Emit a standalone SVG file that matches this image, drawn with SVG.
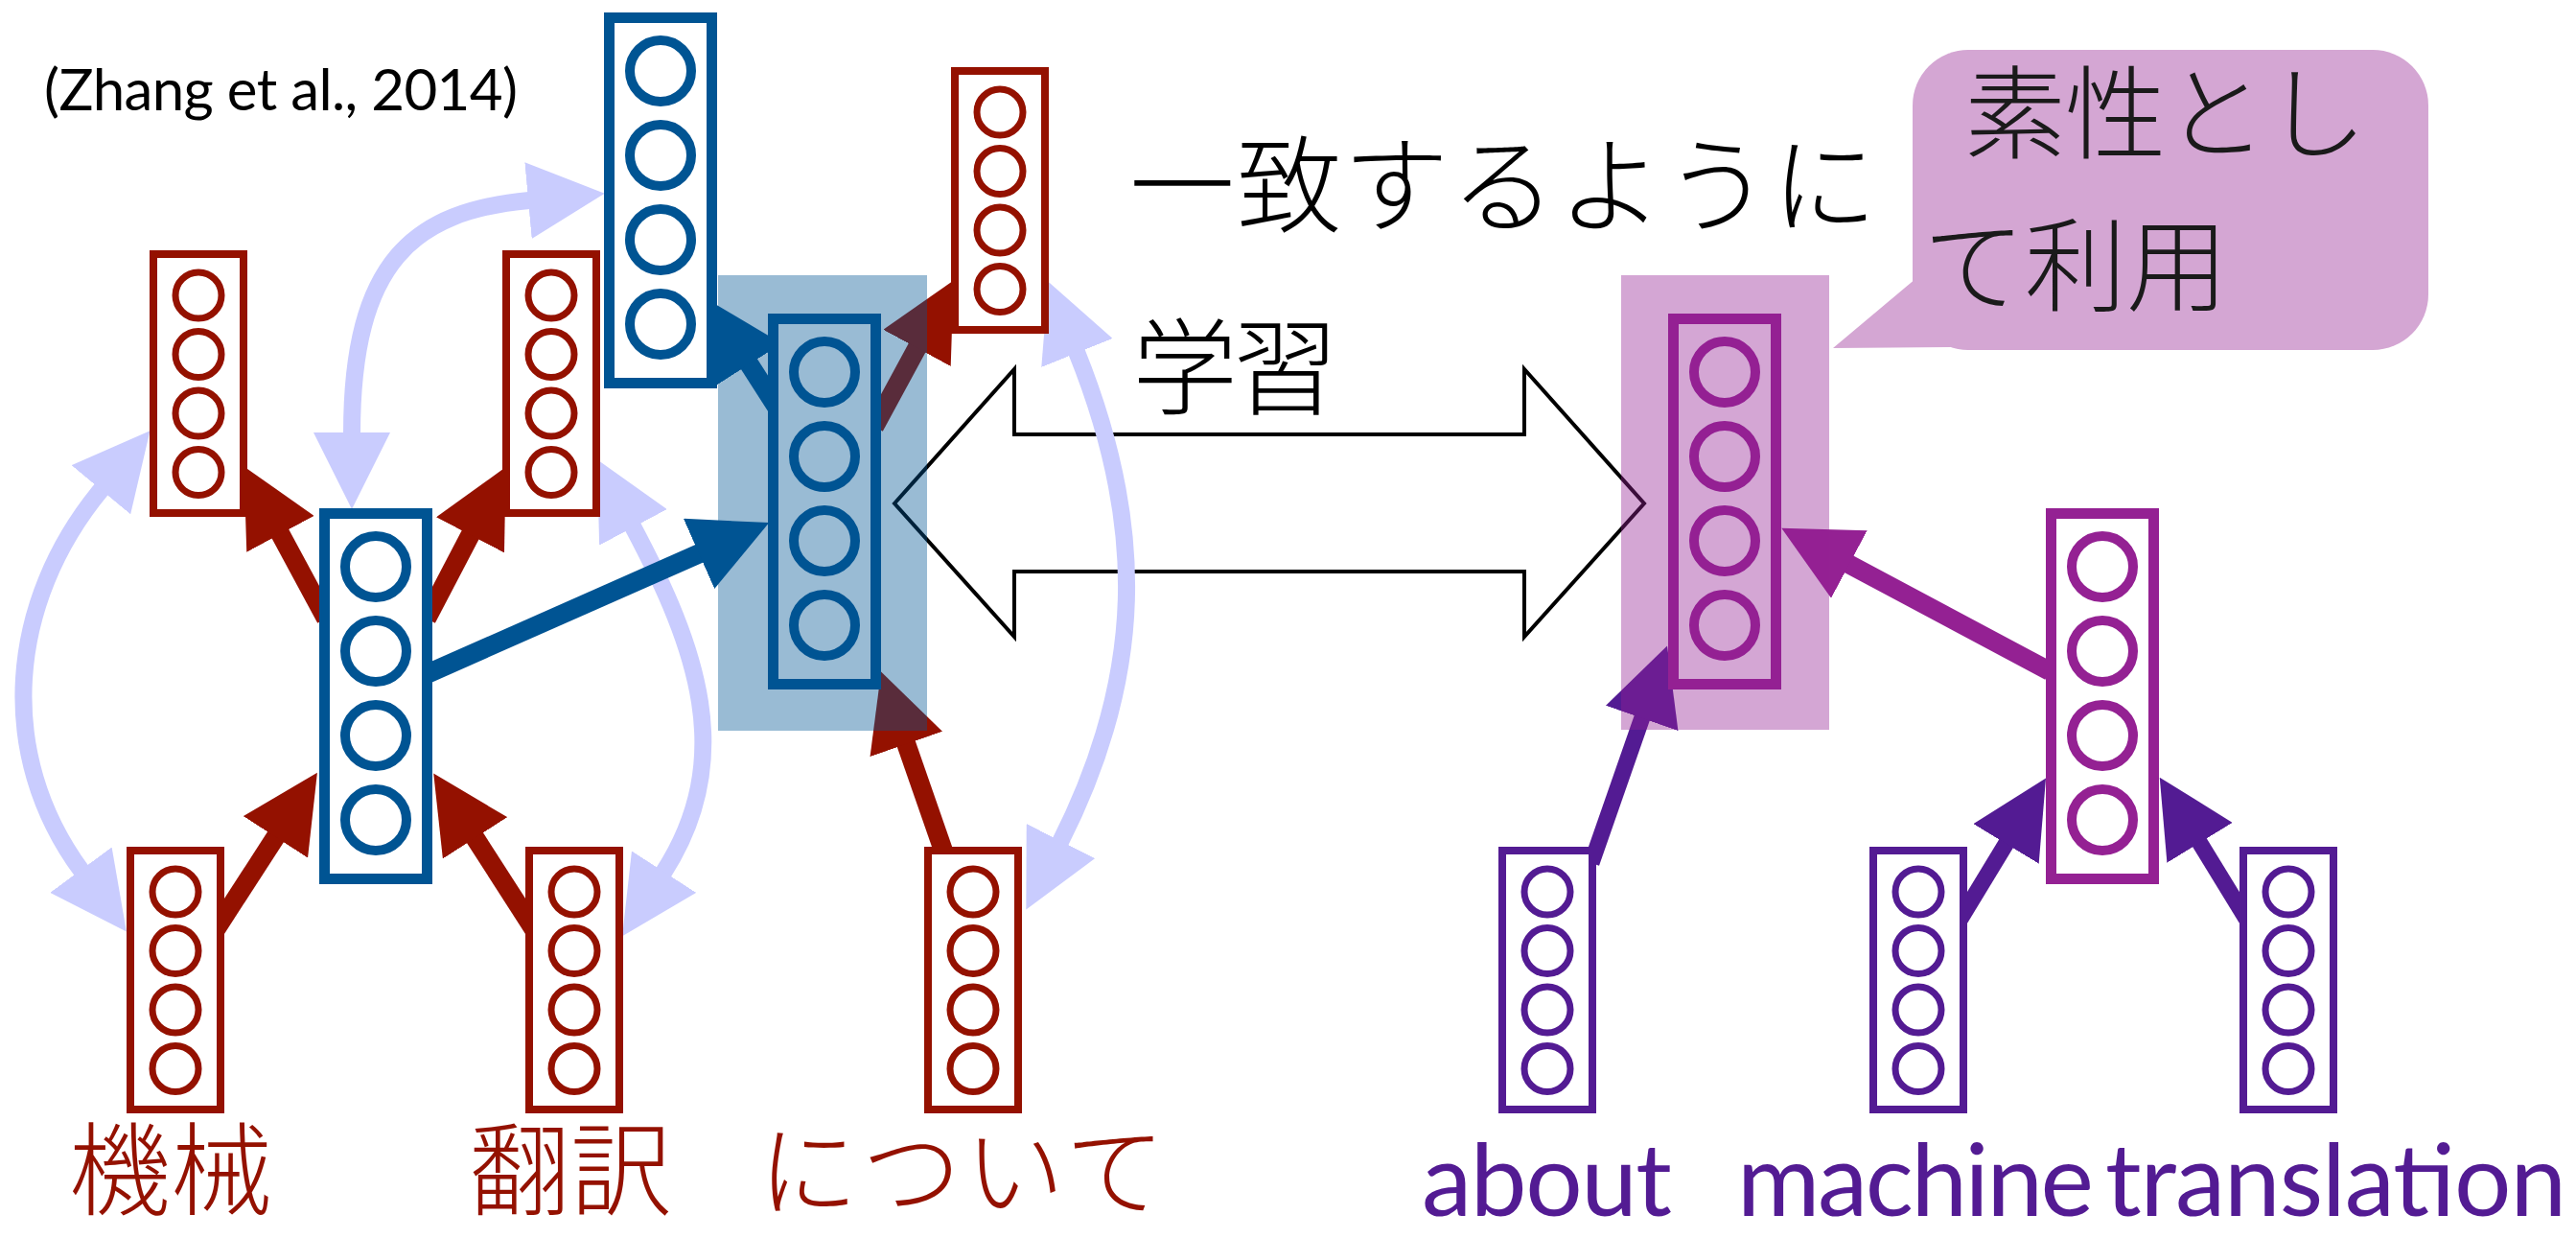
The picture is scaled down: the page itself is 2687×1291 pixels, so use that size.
<svg xmlns="http://www.w3.org/2000/svg" width="2687" height="1291" viewBox="0 0 2687 1291">
<style>
.rb{fill:#fff;stroke:#941100;stroke-width:8}
.rc{fill:none;stroke:#941100;stroke-width:7}
.bb{fill:#fff;stroke:#005493;stroke-width:11}
.bc{fill:none;stroke:#005493;stroke-width:10}
.pb{fill:#fff;stroke:#942193;stroke-width:11}
.pc{fill:none;stroke:#942193;stroke-width:10}
.gb{fill:#fff;stroke:#531B93;stroke-width:8}
.gc{fill:none;stroke:#531B93;stroke-width:7}
.lav{fill:none;stroke:#C9CCFE;stroke-width:18;marker-start:url(#mL);marker-end:url(#mL)}
.ar{stroke:#941100;stroke-width:20;marker-end:url(#mR)}
.ab{stroke:#005493;stroke-width:20;marker-end:url(#mB)}
.ap{stroke:#942193;stroke-width:20;marker-end:url(#mP)}
.ag{stroke:#531B93;stroke-width:17;marker-end:url(#mG)}
.jp{font-family:"Noto Sans CJK JP","Noto Sans CJK SC",sans-serif;font-weight:300}
.en{font-family:Lato,"Liberation Sans",sans-serif}
</style>
<defs>
<marker id="mR" markerUnits="userSpaceOnUse" markerWidth="80" markerHeight="80" viewBox="0 0 80 80" refX="1" refY="40" orient="auto"><path d="M0,0L80,40L0,80z" fill="#941100"/></marker>
<marker id="mB" markerUnits="userSpaceOnUse" markerWidth="80" markerHeight="80" viewBox="0 0 80 80" refX="1" refY="40" orient="auto"><path d="M0,0L80,40L0,80z" fill="#005493"/></marker>
<marker id="mP" markerUnits="userSpaceOnUse" markerWidth="80" markerHeight="80" viewBox="0 0 80 80" refX="1" refY="40" orient="auto"><path d="M0,0L80,40L0,80z" fill="#942193"/></marker>
<marker id="mG" markerUnits="userSpaceOnUse" markerWidth="80" markerHeight="80" viewBox="0 0 80 80" refX="1" refY="40" orient="auto"><path d="M0,0L80,40L0,80z" fill="#531B93"/></marker>
<marker id="mL" markerUnits="userSpaceOnUse" markerWidth="80" markerHeight="80" viewBox="0 0 80 80" refX="1" refY="40" orient="auto-start-reverse"><path d="M0,0L80,40L0,80z" fill="#C9CCFE"/></marker>
</defs>

<text class="en" x="46" y="115" font-size="60" textLength="494">(Zhang et al., 2014)</text>

<g id="learn-arrow">
<polygon points="933,525 1058,385 1058,453 1590,453 1590,385 1715,525 1590,664 1590,596 1058,596 1058,664" fill="#fff" stroke="#000" stroke-width="4"/>
</g>

<g id="connectors">
<path class="lav" d="M106,510 C8,628 -5,786 85,908"/>
<path class="lav" d="M367,452 C367,272 432,220 552,209"/>
<path class="lav" d="M660,549 C727,675 769,791 692,910"/>
<path class="lav" d="M1123,367 C1196,548 1194,704 1106,878"/>
<line class="ar" x1="340" y1="645" x2="292" y2="556"/>
<line class="ar" x1="445" y1="645" x2="491" y2="557"/>
<line class="ar" x1="222" y1="974" x2="288" y2="872"/>
<line class="ar" x1="560" y1="974" x2="495" y2="873"/>
<line class="ar" x1="985" y1="890" x2="945" y2="775"/>
<line class="ar" x1="912" y1="445" x2="957" y2="362"/>
<line class="ab" x1="445" y1="703" x2="730" y2="577"/>
<line class="ab" x1="815" y1="432" x2="781" y2="379"/>
<line class="ap" x1="2138" y1="700" x2="1928" y2="588"/>
<line class="ag" x1="1660" y1="900" x2="1713" y2="748"/>
<line class="ag" x1="2045" y1="958" x2="2093" y2="879"/>
<line class="ag" x1="2343" y1="958" x2="2294" y2="878"/>
</g>

<g id="rec-kikai">
<rect class="rb" x="160" y="265" width="94" height="270"/>
<circle class="rc" cx="207" cy="308" r="24"/><circle class="rc" cx="207" cy="369.5" r="24"/><circle class="rc" cx="207" cy="431" r="24"/><circle class="rc" cx="207" cy="492.5" r="24"/>
</g>
<g id="rec-honyaku">
<rect class="rb" x="528" y="265" width="94" height="270"/>
<circle class="rc" cx="575" cy="308" r="24"/><circle class="rc" cx="575" cy="369.5" r="24"/><circle class="rc" cx="575" cy="431" r="24"/><circle class="rc" cx="575" cy="492.5" r="24"/>
</g>
<g id="rec-nitsuite">
<rect class="rb" x="996" y="74" width="94" height="270"/>
<circle class="rc" cx="1043" cy="117" r="24"/><circle class="rc" cx="1043" cy="178.5" r="24"/><circle class="rc" cx="1043" cy="240" r="24"/><circle class="rc" cx="1043" cy="301.5" r="24"/>
</g>
<g id="word-kikai">
<rect class="rb" x="136" y="887" width="94" height="270"/>
<circle class="rc" cx="183" cy="930" r="24"/><circle class="rc" cx="183" cy="991.5" r="24"/><circle class="rc" cx="183" cy="1053" r="24"/><circle class="rc" cx="183" cy="1114.5" r="24"/>
</g>
<g id="word-honyaku">
<rect class="rb" x="552" y="887" width="94" height="270"/>
<circle class="rc" cx="599" cy="930" r="24"/><circle class="rc" cx="599" cy="991.5" r="24"/><circle class="rc" cx="599" cy="1053" r="24"/><circle class="rc" cx="599" cy="1114.5" r="24"/>
</g>
<g id="word-nitsuite">
<rect class="rb" x="968" y="887" width="94" height="270"/>
<circle class="rc" cx="1015" cy="930" r="24"/><circle class="rc" cx="1015" cy="991.5" r="24"/><circle class="rc" cx="1015" cy="1053" r="24"/><circle class="rc" cx="1015" cy="1114.5" r="24"/>
</g>
<g id="rec-c1">
<rect class="bb" x="635.5" y="18.5" width="107" height="381"/>
<circle class="bc" cx="689" cy="74" r="32"/><circle class="bc" cx="689" cy="162" r="32"/><circle class="bc" cx="689" cy="250" r="32"/><circle class="bc" cx="689" cy="338" r="32"/>
</g>
<g id="c1">
<rect class="bb" x="338.5" y="535.5" width="107" height="381"/>
<circle class="bc" cx="392" cy="591" r="32"/><circle class="bc" cx="392" cy="679" r="32"/><circle class="bc" cx="392" cy="767" r="32"/><circle class="bc" cx="392" cy="855" r="32"/>
</g>
<g id="c2">
<rect class="bb" x="806.5" y="332.5" width="107" height="381"/>
<circle class="bc" cx="860" cy="388" r="32"/><circle class="bc" cx="860" cy="476" r="32"/><circle class="bc" cx="860" cy="564" r="32"/><circle class="bc" cx="860" cy="652" r="32"/>
</g>
<g id="p1">
<rect class="pb" x="1745.5" y="332.5" width="107" height="381"/>
<circle class="pc" cx="1799" cy="388" r="32"/><circle class="pc" cx="1799" cy="476" r="32"/><circle class="pc" cx="1799" cy="564" r="32"/><circle class="pc" cx="1799" cy="652" r="32"/>
</g>
<g id="p2">
<rect class="pb" x="2139.5" y="535.5" width="107" height="381"/>
<circle class="pc" cx="2193" cy="591" r="32"/><circle class="pc" cx="2193" cy="679" r="32"/><circle class="pc" cx="2193" cy="767" r="32"/><circle class="pc" cx="2193" cy="855" r="32"/>
</g>
<g id="word-about">
<rect class="gb" x="1567" y="887" width="94" height="270"/>
<circle class="gc" cx="1614" cy="930" r="24"/><circle class="gc" cx="1614" cy="991.5" r="24"/><circle class="gc" cx="1614" cy="1053" r="24"/><circle class="gc" cx="1614" cy="1114.5" r="24"/>
</g>
<g id="word-machine">
<rect class="gb" x="1954" y="887" width="94" height="270"/>
<circle class="gc" cx="2001" cy="930" r="24"/><circle class="gc" cx="2001" cy="991.5" r="24"/><circle class="gc" cx="2001" cy="1053" r="24"/><circle class="gc" cx="2001" cy="1114.5" r="24"/>
</g>
<g id="word-translation">
<rect class="gb" x="2340" y="887" width="94" height="270"/>
<circle class="gc" cx="2387" cy="930" r="24"/><circle class="gc" cx="2387" cy="991.5" r="24"/><circle class="gc" cx="2387" cy="1053" r="24"/><circle class="gc" cx="2387" cy="1114.5" r="24"/>
</g>

<g id="highlights">
<rect x="749" y="287" width="218" height="475" fill="#005493" fill-opacity="0.4"/>
<rect x="1691" y="287" width="217" height="474" fill="#942193" fill-opacity="0.4"/>
</g>

<g id="labels">
<text class="jp" x="1178" y="234" font-size="110" textLength="780">一致するように</text>
<text class="jp" x="1181" y="424" font-size="110" textLength="215">学習</text>
<text class="jp" x="72" y="1259" font-size="106" fill="#941100">機械</text>
<text class="jp" x="489" y="1259" font-size="106" fill="#941100">翻訳</text>
<text class="jp" x="791" y="1260" font-size="104" fill="#941100" textLength="424">について</text>
<text class="en" x="1483" y="1268" font-size="105" fill="#531B93" textLength="261">about</text>
<text class="en" x="1812" y="1268" font-size="105" fill="#531B93" textLength="372">machine</text>
<text class="en" x="2196" y="1268" font-size="105" fill="#531B93" textLength="481">translation</text>
</g>

<g id="bubble">
<rect x="1995" y="52" width="538" height="313" rx="58" fill="#D4A6D3"/>
<polygon points="1999,290 1912,363 2035,362" fill="#D4A6D3"/>
<text class="jp" font-size="106" fill="#1a1a1a"><tspan x="2049" y="157" textLength="420">素性とし</tspan><tspan x="2006" y="316" textLength="318">て利用</tspan></text>
</g>
</svg>
